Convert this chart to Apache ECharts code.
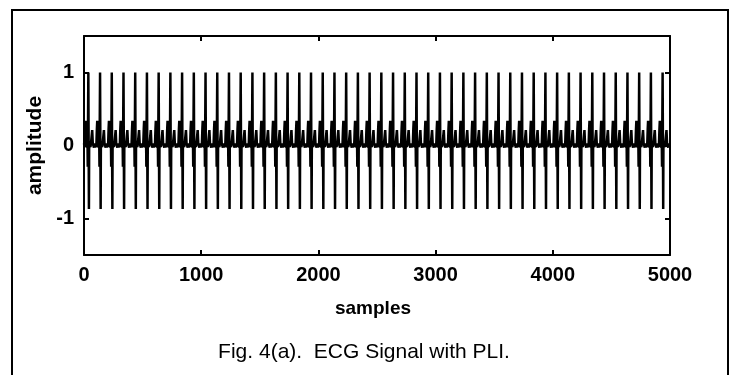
<!DOCTYPE html>
<html>
<head>
<meta charset="utf-8">
<script src="https://cdn.jsdelivr.net/npm/echarts@6/dist/echarts.min.js"></script>
<style>
  html, body { margin: 0; padding: 0; background: #fff; }
  #chart { width: 735px; height: 375px; }
</style>
</head>
<body>
<div id="chart"></div>
<script>
// one heart beat (100 samples): offset inside the beat and amplitude, PLI ripple included
var beatOffsets = [0, 5, 10, 13, 15, 20, 25, 30, 32, 37, 42, 44, 45, 50, 55, 60, 65, 70, 75, 80, 85, 90, 95];
var beatValues = [0.03, -0.02, 0.23, 0.34, 0.23, 0.08, -0.03, 0.03, -0.29, 1.0, -0.87, 0, -0.03, 0.04, -0.02, 0.04, 0.03, 0.21, 0.03, 0.03, -0.03, 0.03, -0.03];

// sample where each beat starts
var beatStarts = [0, 100, 200, 300, 400, 500, 600, 700, 800, 900,
  1000, 1100, 1200, 1300, 1400, 1500, 1600, 1700, 1800, 1900,
  2000, 2100, 2200, 2300, 2400, 2500, 2600, 2700, 2800, 2900,
  3000, 3100, 3200, 3300, 3400, 3500, 3600, 3700, 3800, 3900,
  4000, 4100, 4200, 4300, 4400, 4500, 4600, 4700, 4800, 4900];

var xTicks = [0, 1000, 2000, 3000, 4000, 5000];
var yTicks = [-1, 0, 1];

var signal = [];
beatStarts.forEach(function (s) {
  for (var i = 0; i < beatOffsets.length; i++) {
    signal.push([s + beatOffsets[i], beatValues[i]]);
  }
});

var labelFont = "'Liberation Sans', Arial, sans-serif";

function plain(v) {
  return String(v);
}

var chartDom = document.getElementById("chart");
var myChart = echarts.init(chartDom);
var option;

option = {
  animation: false,
  backgroundColor: "#fff",
  grid: {
    left: 84,
    right: 65,
    top: 36,
    bottom: 120,
  },
  xAxis: [
    {
      type: "value",
      min: 0,
      max: 5000,
      interval: 1000,
      name: "samples",
      nameLocation: "middle",
      nameGap: 44,
      nameTextStyle: {
        color: "#000",
        fontSize: 19,
        fontWeight: "bold",
        fontFamily: labelFont,
        padding: [0, 8, 0, 0],
      },
      axisLine: { show: true, onZero: false, lineStyle: { color: "#000", width: 2 } },
      axisTick: { show: true, inside: true, length: 5, lineStyle: { color: "#000", width: 2 }, customValues: xTicks },
      axisLabel: { color: "#000", fontSize: 20, fontWeight: "bold", fontFamily: labelFont, margin: 10, customValues: xTicks, formatter: plain },
      splitLine: { show: false },
    },
    {
      type: "value",
      position: "top",
      min: 0,
      max: 5000,
      interval: 1000,
      axisLine: { show: true, onZero: false, lineStyle: { color: "#000", width: 2 } },
      axisTick: { show: true, inside: true, length: 5, lineStyle: { color: "#000", width: 2 }, customValues: xTicks },
      axisLabel: { show: false },
      splitLine: { show: false },
    },
  ],
  yAxis: [
    {
      type: "value",
      min: -1.5,
      max: 1.5,
      interval: 0.5,
      name: "amplitude",
      nameLocation: "middle",
      nameRotate: 90,
      nameGap: 29,
      nameTextStyle: {
        color: "#000",
        fontSize: 21,
        fontWeight: "bold",
        fontFamily: labelFont,
      },
      axisLine: { show: true, onZero: false, lineStyle: { color: "#000", width: 2 } },
      axisTick: { show: true, inside: true, length: 5, lineStyle: { color: "#000", width: 2 }, customValues: yTicks },
      axisLabel: { color: "#000", fontSize: 20, fontWeight: "bold", fontFamily: labelFont, margin: 10, customValues: yTicks, formatter: plain },
      splitLine: { show: false },
    },
    {
      type: "value",
      position: "right",
      min: -1.5,
      max: 1.5,
      interval: 0.5,
      axisLine: { show: true, onZero: false, lineStyle: { color: "#000", width: 2 } },
      axisTick: { show: true, inside: true, length: 5, lineStyle: { color: "#000", width: 2 }, customValues: yTicks },
      axisLabel: { show: false },
      splitLine: { show: false },
    },
  ],
  graphic: [
    {
      type: "rect",
      shape: { x: 12, y: 10, width: 716, height: 380 },
      style: { fill: "none", stroke: "#000", lineWidth: 2 },
      silent: true,
    },
    {
      type: "text",
      x: 364,
      y: 352,
      style: {
        text: "Fig. 4(a).  ECG Signal with PLI.",
        fill: "#000",
        fontSize: 21,
        fontFamily: labelFont,
        align: "center",
        verticalAlign: "middle",
      },
    },
  ],
  series: [
    {
      type: "line",
      data: signal,
      xAxisIndex: 0,
      yAxisIndex: 0,
      showSymbol: false,
      lineStyle: { color: "#000", width: 2.5 },
    },
  ],
};

option && myChart.setOption(option);
</script>
</body>
</html>
